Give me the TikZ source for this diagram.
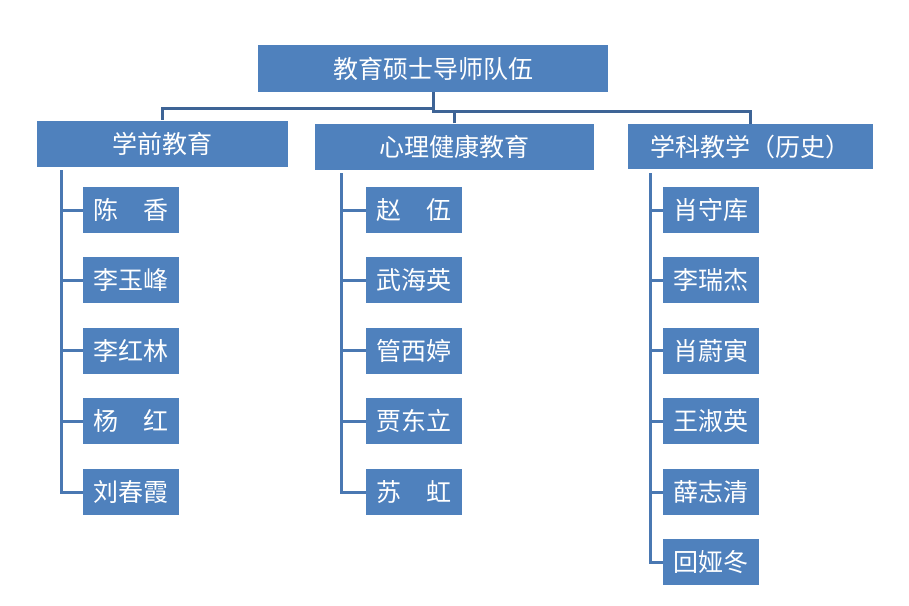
\documentclass[tikz,border=0pt]{standalone}
\usepackage{fontspec}
\newfontfamily\cjk{Noto Sans CJK SC}
\definecolor{boxblue}{RGB}{79,129,189}
\definecolor{toplinec}{RGB}{62,100,150}
\definecolor{sublinec}{RGB}{74,120,178}
\tikzset{
  box/.style={fill=boxblue, draw=none, text=white, inner sep=0pt, font=\cjk\fontsize{25}{29}\selectfont},
  conn/.style={draw=toplinec, line width=3pt},
  subconn/.style={draw=sublinec, line width=3pt},
}
\begin{document}
\begin{tikzpicture}[x=1pt,y=-1pt]
\useasboundingbox (0,0) rectangle (909,605);
% top
\node[box, minimum width=350pt, minimum height=47pt] (top) at (433,68.5) {教育硕士导师队伍};
% headers
\node[box, minimum width=251pt, minimum height=46pt] (h1) at (162.5,143.5) {学前教育};
\node[box, minimum width=279pt, minimum height=46pt] (h2) at (454.5,146.5) {心理健康教育};
\node[box, minimum width=245pt, minimum height=45pt] (h3) at (750.5,146.5) {学科教学（历史）};
% top connectors
\coordinate (jl) at (433,108.3);
\coordinate (jr) at (433,111.7);
\draw[conn] (top.south) -- (jl) -| (h1.north);
\draw[conn] (jl) -- (jr) -| (h3.north);
\draw[conn] (h2.north) -- (h2.north |- jr);
% children
\foreach \n/\t/\y in {1/陈　香/210, 2/李玉峰/280, 3/李红林/350.5, 4/杨　红/421, 5/刘春霞/492}{
  \node[box, minimum width=96pt, minimum height=46pt] (a\n) at (130.7,\y) {\t};
}
\foreach \n/\t/\y in {1/赵　伍/210, 2/武海英/280, 3/管西婷/350.5, 4/贾东立/421, 5/苏　虹/492}{
  \node[box, minimum width=96pt, minimum height=46pt] (b\n) at (414.3,\y) {\t};
}
\foreach \n/\t/\y in {1/肖守库/210, 2/李瑞杰/280, 3/肖蔚寅/350.5, 4/王淑英/421, 5/薛志清/492, 6/回娅冬/562}{
  \node[box, minimum width=96pt, minimum height=46pt] (c\n) at (710.7,\y) {\t};
}
% column lines
\coordinate (la) at (61,170);
\coordinate (lb) at (341,173);
\coordinate (lc) at (650,173);
\draw[subconn] (la) -- (la |- a5.west) -- (a5.west);
\foreach \n in {1,2,3,4}{ \draw[subconn] (la |- a\n.west) -- (a\n.west); }
\draw[subconn] (lb) -- (lb |- b5.west) -- (b5.west);
\foreach \n in {1,2,3,4}{ \draw[subconn] (lb |- b\n.west) -- (b\n.west); }
\draw[subconn] (lc) -- (lc |- c6.west) -- (c6.west);
\foreach \n in {1,2,3,4,5}{ \draw[subconn] (lc |- c\n.west) -- (c\n.west); }
\end{tikzpicture}
\end{document}
